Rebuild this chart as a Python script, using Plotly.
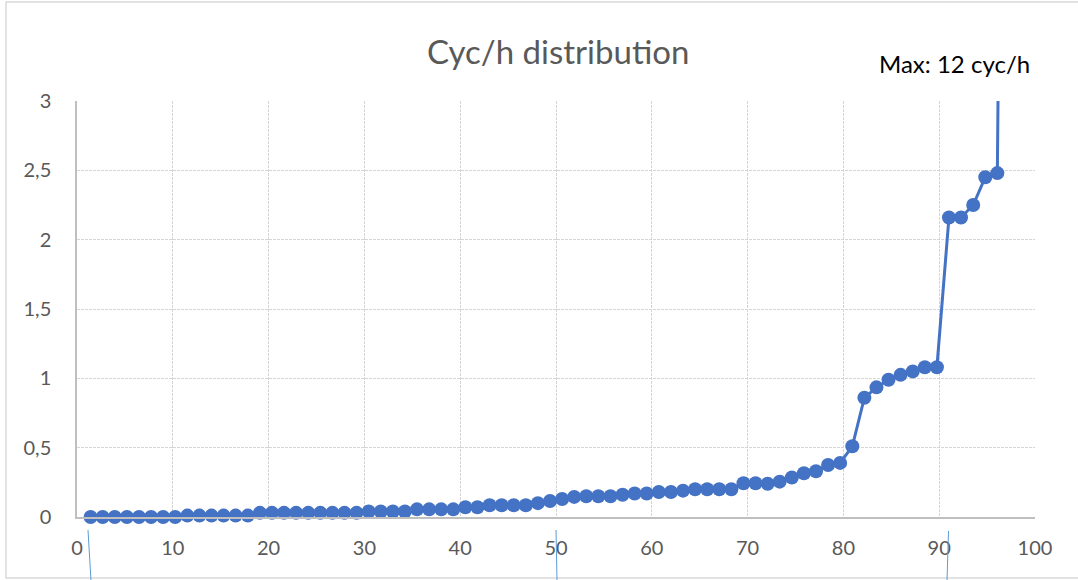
import plotly.graph_objects as go

# Data
pct = [1.42, 2.68, 3.94, 5.21, 6.47, 7.73, 8.99, 10.25, 11.52, 12.78,
       14.04, 15.30, 16.56, 17.83, 19.09, 20.35, 21.61, 22.87, 24.14, 25.40,
       26.66, 27.92, 29.18, 30.45, 31.71, 32.97, 34.23, 35.49, 36.76, 38.02,
       39.28, 40.54, 41.80, 43.07, 44.33, 45.59, 46.85, 48.11, 49.38, 50.64,
       51.90, 53.16, 54.42, 55.69, 56.95, 58.21, 59.47, 60.73, 62.00, 63.26,
       64.52, 65.78, 67.04, 68.31, 69.57, 70.83, 72.09, 73.35, 74.62, 75.88,
       77.14, 78.40, 79.66, 80.93, 82.19, 83.45, 84.71, 85.97, 87.24, 88.50,
       89.76, 91.02, 92.28, 93.55, 94.81, 96.07, 97.33]
cyc_per_h = [0, 0, 0, 0, 0, 0, 0, 0, 0.01, 0.01,
             0.01, 0.01, 0.01, 0.01, 0.03, 0.03, 0.03, 0.03, 0.03, 0.03,
             0.03, 0.03, 0.03, 0.04, 0.04, 0.04, 0.04, 0.055, 0.055, 0.055,
             0.055, 0.07, 0.07, 0.085, 0.085, 0.085, 0.085, 0.10, 0.115, 0.13,
             0.145, 0.15, 0.15, 0.15, 0.16, 0.17, 0.17, 0.18, 0.18, 0.19,
             0.20, 0.20, 0.20, 0.20, 0.243, 0.243, 0.24, 0.255, 0.285, 0.315,
             0.33, 0.375, 0.39, 0.51, 0.86, 0.935, 0.99, 1.025, 1.05, 1.08,
             1.08, 2.16, 2.16, 2.25, 2.45, 2.48, 12]

x_ticks = [0, 10, 20, 30, 40, 50, 60, 70, 80, 90, 100]
x_tick_labels = ["0", "10", "20", "30", "40", "50", "60", "70", "80", "90", "100"]
y_ticks = [0, 0.5, 1, 1.5, 2, 2.5, 3]
y_tick_labels = ["0", "0,5", "1", "1,5", "2", "2,5", "3"]

title_text = "Cyc/h distribution"
max_note = "Max: 12 cyc/h"

FONT = "Lato, Open Sans, sans-serif"
BLUE = "#4472C4"
GRID = "#D5D5D5"
TXT = "#595959"

fig = go.Figure()
fig.add_trace(go.Scatter(
    x=pct, y=cyc_per_h, mode="lines+markers",
    line=dict(color=BLUE, width=3),
    marker=dict(color=BLUE, size=14, line=dict(width=0)),
    cliponaxis=False, showlegend=False, hoverinfo="x+y",
))

W, H = 1078, 580
L, R, T, B = 77, 43, 101, 63
pw, ph = W - L - R, H - T - B


def px_x(p):
    return (p - L) / pw


def px_y(p):
    return (H - B - p) / ph


shapes = [
    # outer chart border
    dict(type="rect", xref="paper", yref="paper",
         x0=px_x(6), x1=px_x(1080), y0=px_y(578), y1=px_y(2),
         line=dict(color="#D9D9D9", width=1.5), layer="below"),
    # thin blue connector lines below the axis
    dict(type="line", xref="paper", yref="paper",
         x0=px_x(88), y0=px_y(530), x1=px_x(91), y1=px_y(581),
         line=dict(color="#5B9BD5", width=1)),
    dict(type="line", xref="paper", yref="paper",
         x0=px_x(556), y0=px_y(530), x1=px_x(557), y1=px_y(581),
         line=dict(color="#5B9BD5", width=1)),
    dict(type="line", xref="paper", yref="paper",
         x0=px_x(948.5), y0=px_y(531), x1=px_x(947), y1=px_y(581),
         line=dict(color="#5B9BD5", width=1)),
]

fig.update_layout(
    width=W, height=H,
    margin=dict(l=L, r=R, t=T, b=B),
    paper_bgcolor="white", plot_bgcolor="white",
    font=dict(family=FONT, color=TXT, size=20),
    shapes=shapes,
    annotations=[
        dict(text=title_text, xref="paper", yref="paper",
             x=px_x(558), y=px_y(51), xanchor="center", yanchor="middle",
             showarrow=False, font=dict(family=FONT, size=33, color=TXT)),
        dict(text=max_note, xref="paper", yref="paper",
             x=px_x(954), y=px_y(64), xanchor="center", yanchor="middle",
             showarrow=False, font=dict(family=FONT, size=24, color="#000000")),
    ],
    xaxis=dict(
        range=[0, 100], tickvals=x_ticks, ticktext=x_tick_labels,
        showgrid=True, gridcolor=GRID, griddash="3px,1px", gridwidth=1,
        showline=True, linecolor="#BFBFBF", linewidth=1.5,
        zeroline=False, ticks="", ticklabelstandoff=12,
        tickfont=dict(family=FONT, size=20, color=TXT), fixedrange=True,
    ),
    yaxis=dict(
        range=[0, 3], tickvals=y_ticks, ticktext=y_tick_labels,
        showgrid=True, gridcolor=GRID, griddash="3px,1px", gridwidth=1,
        showline=True, linecolor="#BFBFBF", linewidth=1.5,
        zeroline=False, ticks="", ticklabelstandoff=20,
        tickfont=dict(family=FONT, size=20, color=TXT), fixedrange=True,
    ),
)

fig.write_html("out.html", config={"displayModeBar": False},
               post_script="document.body.style.margin='0';")
